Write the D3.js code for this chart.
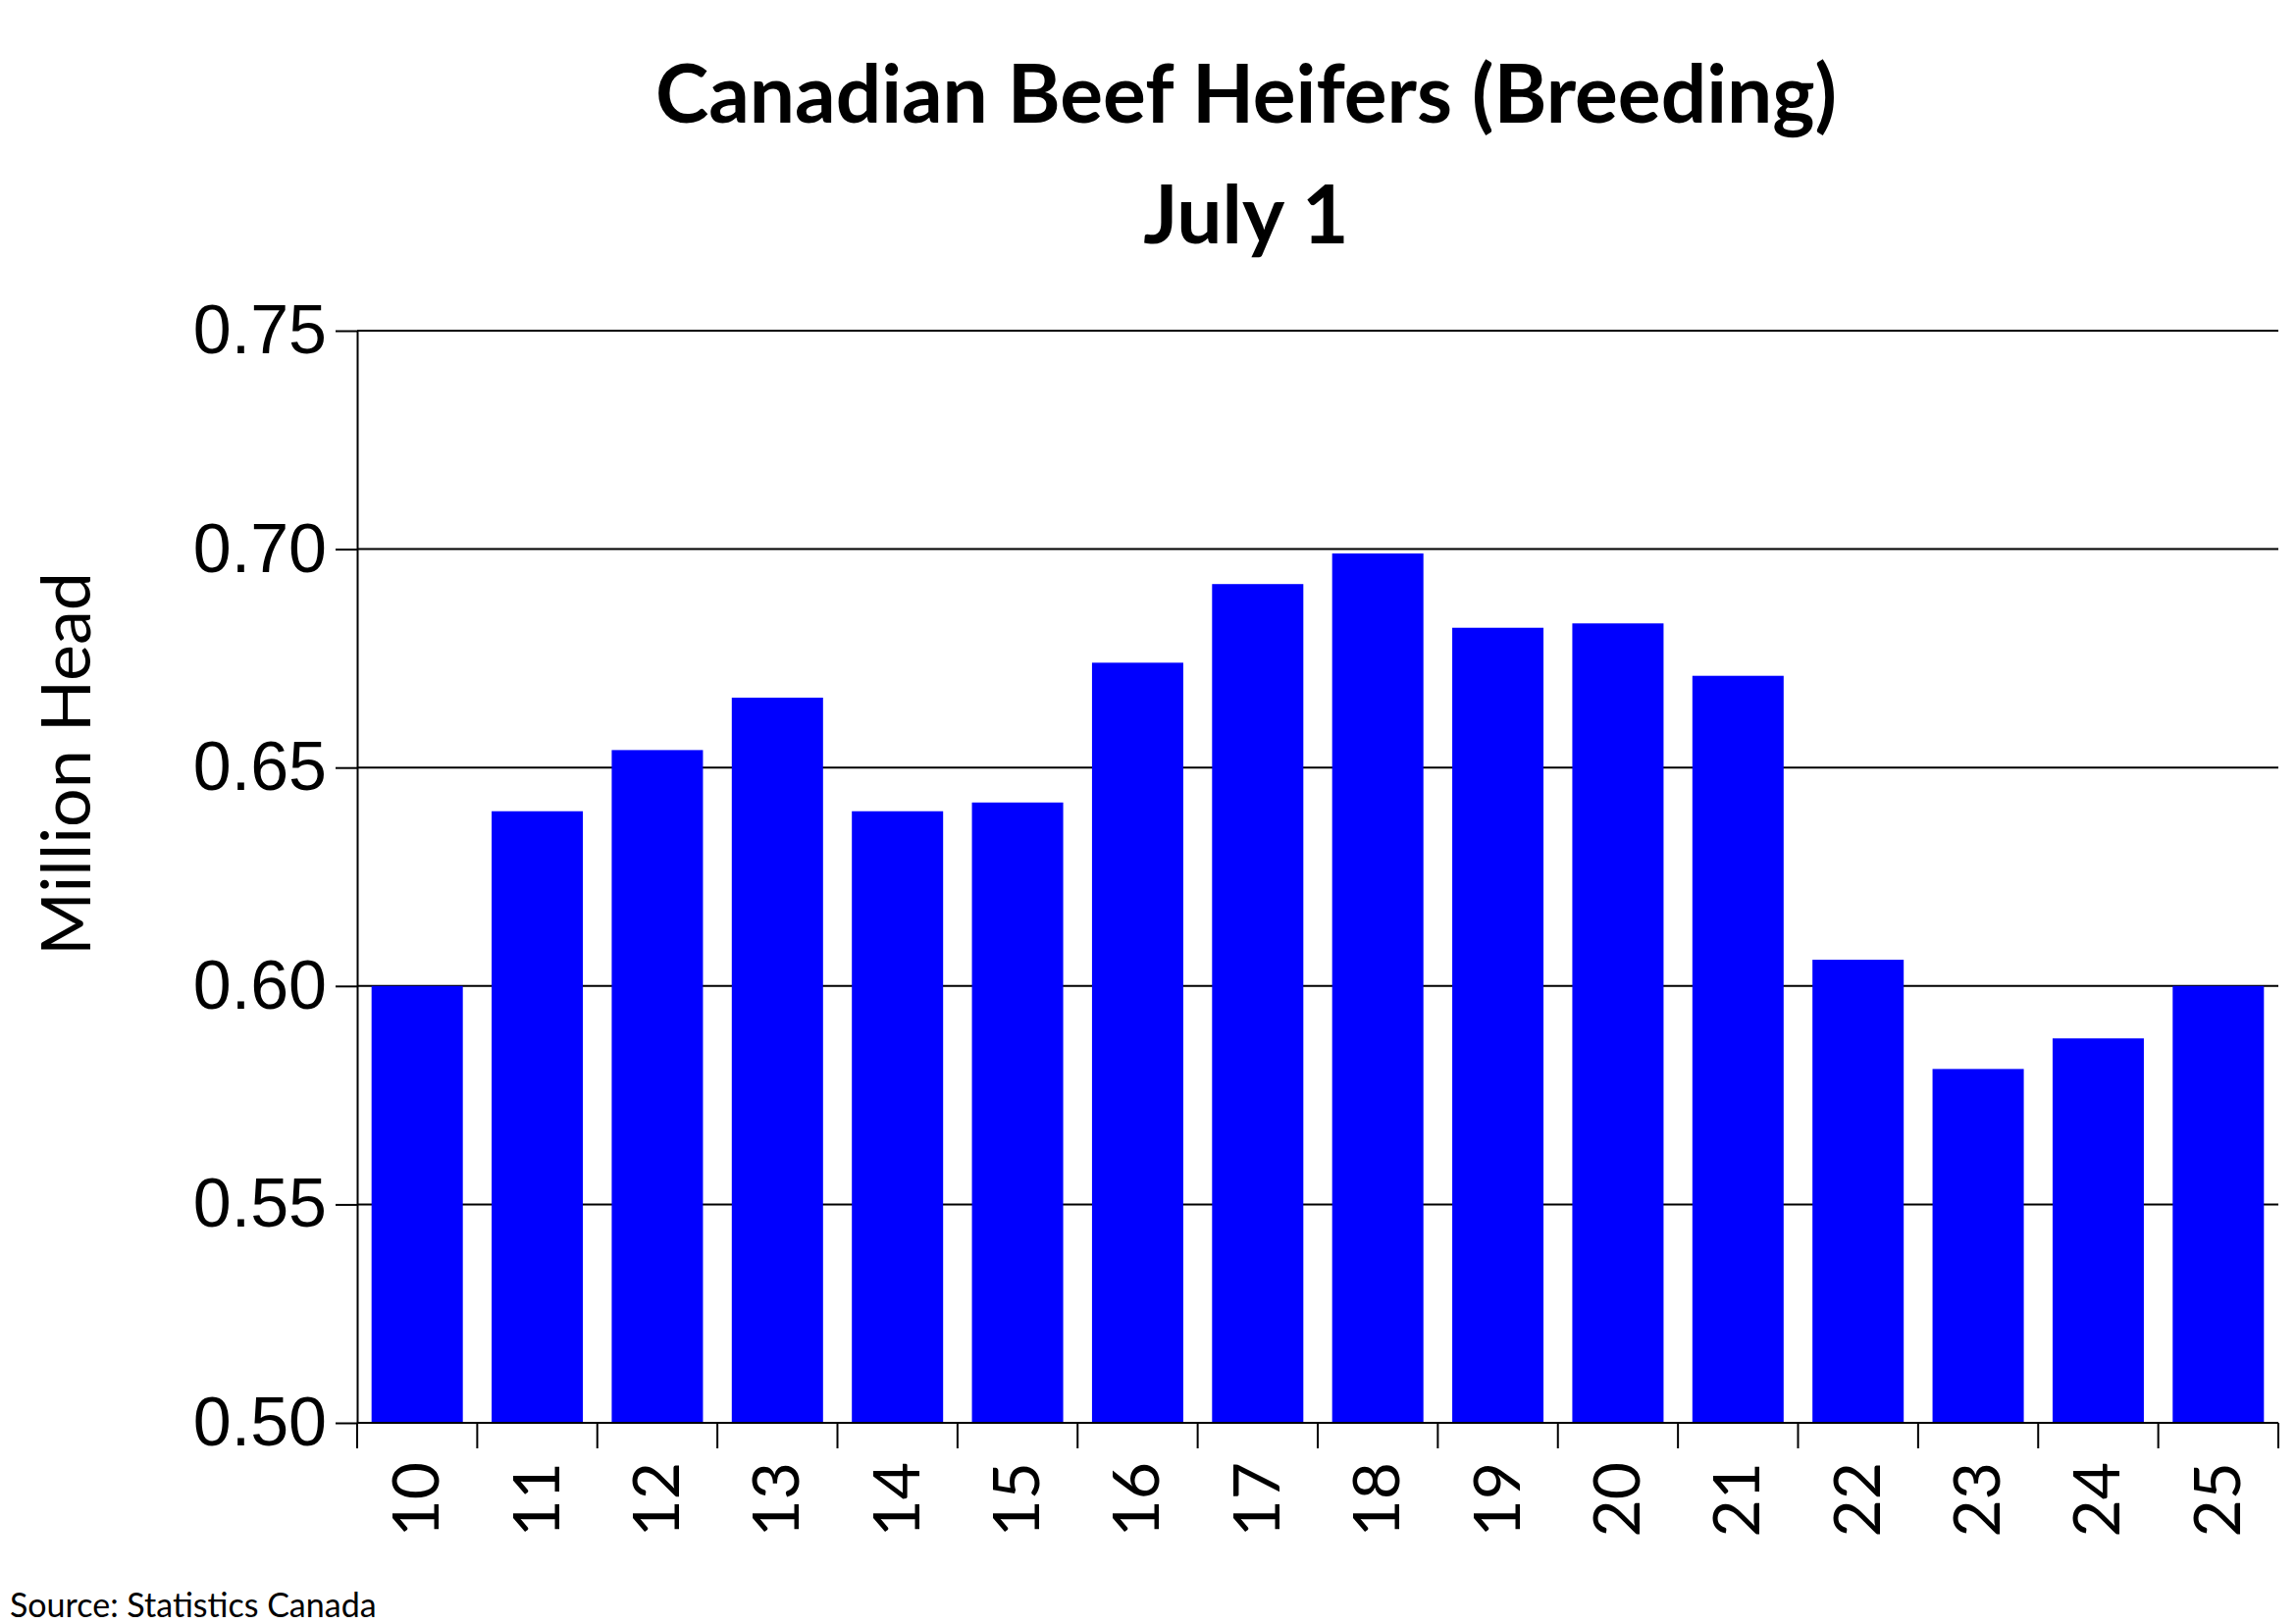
<!DOCTYPE html>
<html><head><meta charset="utf-8">
<script src="https://cdn.jsdelivr.net/npm/d3@7"></script>
<style>body{margin:0;background:#fff}svg{font-family:Lato,"Open Sans",sans-serif}</style>
</head><body>
<script>
var years = ["10","11","12","13","14","15","16","17","18","19","20","21","22","23","24","25"];
var values = [0.600,0.640,0.654,0.666,0.640,0.642,0.674,0.692,0.699,0.682,0.683,0.671,0.606,0.581,0.588,0.600];
var yTicks = [0.50,0.55,0.60,0.65,0.70,0.75];

var W = 2340, H = 1655;
var margin = {top: 337, right: 18, bottom: 205, left: 364};
var width = W - margin.left - margin.right;
var height = H - margin.top - margin.bottom;

var svg = d3.select("body").append("svg").attr("width", W).attr("height", H);
var g = svg.append("g").attr("transform", "translate(" + margin.left + "," + margin.top + ")");

var x = d3.scaleBand().domain(years).range([0, width]).paddingInner(0.24).paddingOuter(0.12);
var y = d3.scaleLinear().domain([0.5, 0.75]).range([height, 0]);

// gridlines
g.selectAll(".grid").data(yTicks.slice(1)).enter().append("line")
  .attr("x1", 0).attr("x2", width)
  .attr("y1", function(d){return y(d);}).attr("y2", function(d){return y(d);})
  .attr("stroke", "#000").attr("stroke-width", 2);

g.selectAll(".bar").data(values).enter().append("rect")
  .attr("x", function(d,i){return x(years[i]);})
  .attr("width", x.bandwidth())
  .attr("y", function(d){return y(d);})
  .attr("height", function(d){return height - y(d);})
  .attr("fill", "#0000ff");

var yAxis = g.append("g").call(d3.axisLeft(y).tickValues(yTicks).tickFormat(d3.format(".2f")).tickSize(22).tickSizeOuter(0));
yAxis.selectAll("text").attr("font-size", 70).attr("dx", -6).attr("fill", "#000");
yAxis.selectAll("line,path").attr("stroke", "#000").attr("stroke-width", 2);

// x axis with ticks between categories
var step = x.step();
var xa = g.append("g").attr("transform", "translate(0," + height + ")");
xa.append("line").attr("x1", 0).attr("x2", width).attr("stroke", "#000").attr("stroke-width", 2);
xa.selectAll(".tk").data(d3.range(years.length + 1)).enter().append("line")
  .attr("x1", function(i){return i * width / years.length;}).attr("x2", function(i){return i * width / years.length;})
  .attr("y1", 0).attr("y2", 26).attr("stroke", "#000").attr("stroke-width", 2);
xa.selectAll(".lbl").data(years).enter().append("text")
  .attr("transform", function(d){return "translate(" + (x(d) + x.bandwidth()/2 + 22) + ",40) rotate(-90)";})
  .attr("text-anchor", "end").attr("font-size", 66).text(function(d){return d;});

svg.append("text").attr("x", W/2 + 100).attr("y", 125).attr("text-anchor", "middle")
  .attr("font-size", 82).attr("font-weight", "bold").text("Canadian Beef Heifers (Breeding)");
svg.append("text").attr("x", W/2 + 100).attr("y", 248).attr("text-anchor", "middle")
  .attr("font-size", 82).attr("font-weight", "bold").text("July 1");
svg.append("text").attr("transform", "translate(92," + (margin.top + height/2 - 115) + ") rotate(-90)")
  .attr("text-anchor", "middle").attr("font-size", 70).text("Million Head");
svg.append("text").attr("x", 10).attr("y", 1648).attr("font-size", 34).text("Source:  Statistics Canada");
</script>
</body></html>
